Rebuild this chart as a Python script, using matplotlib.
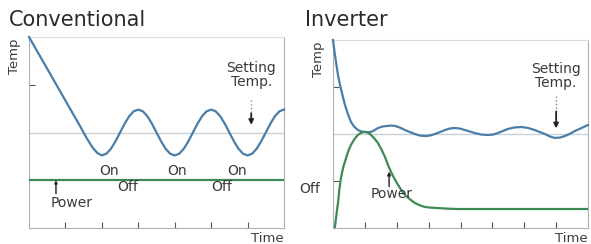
import matplotlib.pyplot as plt

# Conventional: temperature (time 0..70, temp 0..100)
conv_t = [0, 5, 10, 14, 16, 17.5, 18.75,
          20, 21.25, 22.5, 23.75, 25, 26.25, 27.5, 28.75, 30,
          31.25, 32.5, 33.75, 35, 36.25, 37.5, 38.75, 40,
          41.25, 42.5, 43.75, 45, 46.25, 47.5, 48.75, 50,
          51.25, 52.5, 53.75, 55, 56.25, 57.5, 58.75, 60,
          61.25, 62.5, 63.75, 65, 66.25, 67.5, 68.75, 70]
conv_temp = [100, 83.4, 66.7, 53.4, 46.5, 42, 39.3,
             38, 38.9, 41.5, 45.4, 50, 54.6, 58.5, 61.1, 62,
             61.1, 58.5, 54.6, 50, 45.4, 41.5, 38.9, 38,
             38.9, 41.5, 45.4, 50, 54.6, 58.5, 61.1, 62,
             61.1, 58.5, 54.6, 50, 45.4, 41.5, 38.9, 38,
             38.9, 41.5, 45.4, 50, 54.6, 58.5, 61.1, 62]
conv_power_t = [0, 70]
conv_power = [25, 25]
on_t = [22, 40.7, 57]
off_t = [27, 53]

# Inverter (time 0..80)
inv_t = [0, 0.5, 0.94, 1.5, 2.2, 3, 3.76, 4.7, 5.64, 6.7, 7.84, 9, 10, 11, 11.9,
         13, 14.1, 15.6, 17.2, 18.3, 19.4, 21, 22.6, 24.2, 25.7, 27.2, 28.8,
         30.4, 32, 33.5, 35.1, 36.6, 38.2, 39.8, 41.4, 43, 44.5, 46.5, 48.6,
         50.2, 51.7, 53.3, 54.9, 57, 59.2, 61.2, 63.3, 64.9, 66.5, 68, 69.6,
         71.2, 72.7, 74.3, 75.9, 78, 80]
inv_temp = [100, 93.5, 88.3, 82, 76.1, 70.5, 65.4, 60.5, 56.4, 53.8, 52.1, 51.3, 51.1, 51, 51.1,
            52, 53.2, 54, 54.3, 54.5, 54.3, 53.4, 52.1, 51, 50, 49.2, 48.9,
            49.2, 50, 51, 52.1, 52.9, 53.2, 52.9, 52.1, 51.3, 50.5, 49.7, 49.5,
            49.7, 50.5, 51.6, 52.7, 53.5, 53.7, 53.2, 52.1, 51, 50, 48.7, 47.9,
            48.1, 48.9, 50.1, 51.6, 53.2, 54.8]
inv_power_t = [0.6, 1.1, 1.6, 2.0, 2.5, 3.2, 4.1, 4.8, 5.6, 6.7, 7.8, 8.9, 10, 11,
               11.9, 13, 14.1, 15.2, 16.3, 17.2, 18.2, 19.3, 20.4, 21.5, 22.6, 24.1,
               25.7, 27.2, 28.8, 30.8, 32.9, 36, 39.2, 80]
inv_power = [0.5, 7.5, 13.8, 20.5, 26.6, 32.3, 37.2, 40.9, 44.1, 47.2, 49.5, 50.7, 51.1, 50.7,
             49.5, 47.6, 45.2, 41.8, 37.8, 33.8, 29.8, 26.2, 22.9, 20, 17.6, 15.3,
             13.3, 12.1, 11.2, 10.8, 10.6, 10.3, 10.1, 10.1]

setting_temp = 50

blue = '#4a7ea8'
green = '#3d8a55'
txt = '#3a3a3a'
W, H = 591, 244

fig = plt.figure(figsize=(5.91, 2.44), dpi=100)
ax1 = fig.add_axes([29 / W, 16 / H, 255 / W, 191 / H])
ax2 = fig.add_axes([333 / W, 16 / H, 255 / W, 188 / H])


def style_axes(ax, xmax, xticks, yticks):
    ax.set_xlim(0, xmax)
    ax.set_ylim(0, 100)
    ax.set_xticks(xticks)
    ax.set_yticks(yticks)
    ax.set_xticklabels([])
    ax.set_yticklabels([])
    ax.tick_params(direction='in', length=4, width=0.8, color='#555555')
    for side in ['left', 'bottom', 'right']:
        ax.spines[side].set_color('#b0b0b0')
        ax.spines[side].set_linewidth(0.8)
    ax.spines['top'].set_color('#dcdcdc')
    ax.axhline(setting_temp, color='#c8d0d8', lw=1, zorder=1)
    ax.text(-0.055, 0.9, 'Temp', transform=ax.transAxes, rotation=90,
            ha='center', va='center', fontsize=9.5, color=txt)
    ax.text(0.935, -0.055, 'Time', transform=ax.transAxes, ha='center', va='center',
            fontsize=9.5, color=txt, clip_on=False)


def setting_arrow(ax, x, y_text, y_top, y_mid, y_tip):
    ax.text(x, y_text, 'Setting\nTemp.', ha='center', va='center', fontsize=10,
            color=txt, linespacing=1.0)
    ax.plot([x, x], [y_top, y_mid], ls=':', color='#888888', lw=1)
    ax.annotate('', xy=(x, y_tip), xytext=(x, y_mid),
                arrowprops=dict(arrowstyle='-|>', color='#222222', lw=1.3,
                                mutation_scale=7, shrinkA=0, shrinkB=0))


# Conventional
style_axes(ax1, 70, [10, 20, 30, 40, 50, 60], [75])
ax1.plot(conv_t, conv_temp, color=blue, lw=1.6, clip_on=False, zorder=3)
ax1.plot(conv_power_t, conv_power, color=green, lw=1.6, zorder=3)
for t in on_t:
    ax1.text(t, 30, 'On', ha='center', va='center', fontsize=10, color=txt)
for t in off_t:
    ax1.text(t, 21.5, 'Off', ha='center', va='center', fontsize=10, color=txt)
ax1.text(11.6, 13, 'Power', ha='center', va='center', fontsize=10, color=txt)
ax1.annotate('', xy=(7.4, 25), xytext=(7.4, 18),
             arrowprops=dict(arrowstyle='-|>', color='#222222', lw=1,
                             mutation_scale=4, shrinkA=0, shrinkB=0))
setting_arrow(ax1, 61, 80, 67, 60, 54)

# Inverter
style_axes(ax2, 80, [10, 20, 30, 40, 50, 60, 70], [25, 75])
ax2.plot(inv_t, inv_temp, color=blue, lw=1.6, clip_on=False, zorder=3)
ax2.plot(inv_power_t, inv_power, color=green, lw=1.6, zorder=3)
ax2.text(-7.2, 21, 'Off', ha='center', va='center', fontsize=10, color=txt,
         clip_on=False)
ax2.text(18.5, 18, 'Power', ha='center', va='center', fontsize=10, color=txt)
ax2.annotate('', xy=(17.6, 30), xytext=(17.6, 22),
             arrowprops=dict(arrowstyle='-|>', color='#222222', lw=1,
                             mutation_scale=5, shrinkA=0, shrinkB=0))
setting_arrow(ax2, 70, 81, 70, 62, 53)

fig.text(9 / W, 1 - 20 / H, 'Conventional', ha='left', va='center', fontsize=15,
         color='#2a2a2a')
fig.text(305 / W, 1 - 20 / H, 'Inverter', ha='left', va='center', fontsize=15,
         color='#2a2a2a')

fig.savefig('out.png', dpi=100)
